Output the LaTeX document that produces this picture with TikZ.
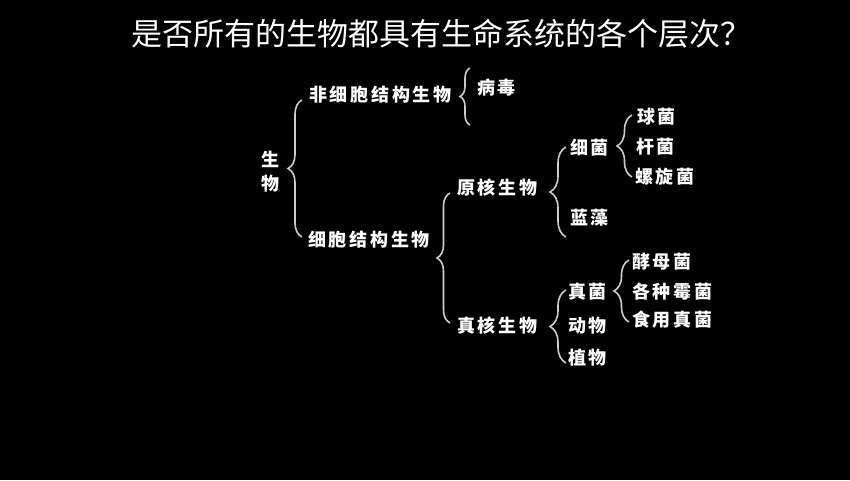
\documentclass[tikz,border=0pt]{standalone}
\usepackage{fontspec}
\newfontfamily\cjk{Noto Sans CJK SC}
\newfontfamily\cjkitem[LetterSpace=15]{Noto Sans CJK SC}
\usetikzlibrary{decorations.pathreplacing}
\tikzset{
	item/.style={text=white, anchor=west, inner sep=0pt,
		font=\cjkitem\bfseries\fontsize{18}{18}\selectfont},
	brc/.style={draw=white!80!black, line width=1.6pt, decorate,
		decoration={brace, amplitude=#1}},
	brc/.default=14pt
}
\begin{document}
\begin{tikzpicture}[x=1pt,y=-1pt]
			\fill[black] (0,0) rectangle (850,480);
			\useasboundingbox (0,0) rectangle (850,480);
			\node[text=white, font=\cjk\fontsize{31}{31}\selectfont] (title) at (441,34) {是否所有的生物都具有生命系统的各个层次？};
			% first level
			\node[item, anchor=center, align=center] (shengwu) at (270,172) {生\\[6pt]物};
			\node[item] (feixibao) at (309,95) {非细胞结构生物};
			\node[item] (xibao) at (308,240) {细胞结构生物};
			\node[item] (bingdu) at (477,88) {病毒};
			% cells
			\node[item] (yuanhe) at (457,188) {原核生物};
			\node[item] (zhenhe) at (457,326) {真核生物};
			\node[item] (xijun) at (570,148) {细菌};
			\node[item] (lanzao) at (570,218) {蓝藻};
			\node[item] (qiujun) at (637,117) {球菌};
			\node[item] (ganjun) at (636,147) {杆菌};
			\node[item] (luoxuan) at (635,177) {螺旋菌};
			\node[item] (zhenjun) at (568,292) {真菌};
			\node[item] (dongwu) at (568,326) {动物};
			\node[item] (zhiwu) at (568,358) {植物};
			\node[item] (jiaomu) at (632,262) {酵母菌};
			\node[item] (meijun) at (632,292) {各种霉菌};
			\node[item] (shiyong) at (632,320) {食用真菌};
			% braces
			\draw[brc] (302,237) -- (302,100);
			\draw[brc=10pt] (470,125) -- (470,68);
			\draw[brc=13pt] (450,323) -- (450,193);
			\draw[brc=16pt] (566,237) -- (566,147);
			\draw[brc=15pt] (632,177) -- (632,115);
			\draw[brc=16pt] (566,363) -- (566,290);
			\draw[brc=15pt] (629,322) -- (629,260);
			\end{tikzpicture}
\end{document}
